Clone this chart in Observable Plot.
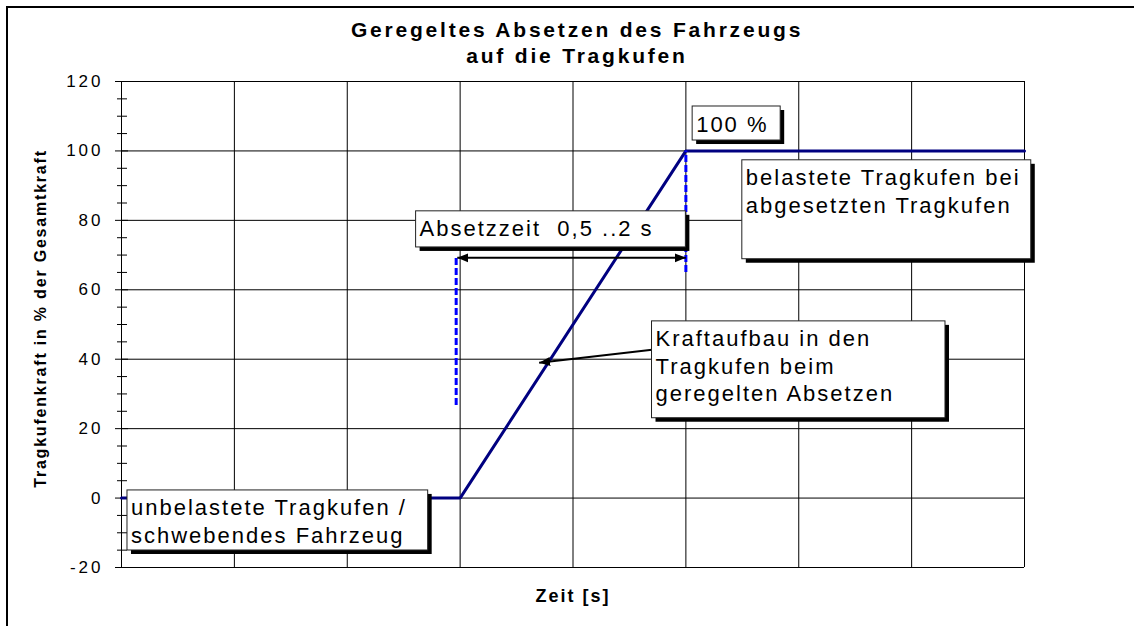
<!DOCTYPE html>
<html>
<head>
<meta charset="utf-8">
<script src="https://cdn.jsdelivr.net/npm/d3@7"></script>
<script src="https://cdn.jsdelivr.net/npm/@observablehq/plot@0.6"></script>
<style>
  html, body { margin: 0; padding: 0; background: #fff; overflow: hidden; }
  #wrap { position: relative; width: 1136px; height: 628px; overflow: hidden; }
  #wrap svg { display: block; }
  #frame { position: absolute; left: 6px; top: 6px; width: 1128px; height: 620px; box-sizing: border-box;
           border-left: 2px solid #000; border-top: 2px solid #000; pointer-events: none; }
  svg { font-family: "Liberation Sans", Arial, sans-serif; }
  g[font-size="22"] text { letter-spacing: 2px; }
  g[font-size="21"] text { letter-spacing: 2.8px; }
  g[font-size="17"] text { letter-spacing: 3px; }
  g[font-size="16"] text { letter-spacing: 1.8px; }
  g[font-size="18"] text { letter-spacing: 2px; }
</style>
</head>
<body>
<div id="wrap"><div id="frame"></div></div>
<script>
// ---- data ----
const time  = [0, 3, 5, 8];          // grid units of the time axis
const force = [0, 0, 100, 100];      // % of total force

const xGrid  = [0, 1, 2, 3, 4, 5, 6, 7, 8];
const yMajor = [-20, 0, 20, 40, 60, 80, 100, 120];
const yMinor = [-15, -10, -5, 5, 10, 15, 25, 30, 35, 45, 50, 55, 65, 70, 75, 85, 90, 95, 105, 110, 115];

const titleText  = "Geregeltes Absetzen des Fahrzeugs\nauf die Tragkufen";
const xLabelText = "Zeit [s]";
const yLabelText = "Tragkufenkraft in % der Gesamtkraft";

// dashed markers of the settling interval
const dashX  = [2.965, 5.0];
const dashY1 = [26.7, 65];
const dashY2 = [69.5, 100];

// double arrow "Absetzzeit"
const spanX1 = [2.975], spanX2 = [5.0], spanY = [69.2];

// pointer arrow to the ramp
const ptrX1 = [4.70], ptrY1 = [42.7], ptrX2 = [3.70], ptrY2 = [39];

// annotation boxes (in data units)
const boxLabels = [
  "Absetzzeit  0,5 ..2 s",
  "100 %",
  "belastete Tragkufen bei\nabgesetzten Tragkufen",
  "Kraftaufbau in den\nTragkufen beim\ngeregelten Absetzen",
  "unbelastete Tragkufen /\nschwebendes Fahrzeug"
];
const boxX1 = [2.61, 5.06, 5.50, 4.70, 0.053];
const boxX2 = [5.00, 5.84, 8.06, 7.30, 2.717];
const boxY1 = [82.6, 112.8, 97.3, 50.9, 2.2];
const boxY2 = [72.2, 103.0, 68.8, 23.0, -15.1];

// ---- build tables ----
const series = time.map((t, i) => ({t, f: force[i]}));
const dashes = dashX.map((x, i) => ({x, y1: dashY1[i], y2: dashY2[i]}));
const spans = spanX1.map((x1, i) => ({x1, x2: spanX2[i], y: spanY[i]}));
const ptrs = ptrX1.map((x1, i) => ({x1, y1: ptrY1[i], x2: ptrX2[i], y2: ptrY2[i]}));
const boxes = boxLabels.map((label, i) => ({label, x1: boxX1[i], x2: boxX2[i], y1: boxY1[i], y2: boxY2[i]}));

function headMarker(color, context) {
  const m = d3.create("svg:marker")
    .attr("viewBox", "-11 -5 11 10")
    .attr("markerUnits", "userSpaceOnUse")
    .attr("markerWidth", 11)
    .attr("markerHeight", 10)
    .attr("refX", 0).attr("refY", 0)
    .attr("orient", "auto-start-reverse");
  m.append("path").attr("d", "M-11,-4.5L0,0L-11,4.5Z").attr("fill", "#000").attr("stroke", "none");
  return m.node();
}

const chart = Plot.plot({
  width: 1136,
  height: 628,
  marginLeft: 121,
  marginRight: 112,
  marginTop: 81,
  marginBottom: 61,
  x: {domain: [0, 8], axis: null},
  y: {domain: [-20, 120], axis: null},
  style: {background: "transparent", fontFamily: "Liberation Sans, Arial, sans-serif", overflow: "visible"},
  marks: [
    Plot.gridX(xGrid, {stroke: "#000", strokeOpacity: 1, strokeWidth: 1}),
    Plot.gridY(yMajor, {stroke: "#000", strokeOpacity: 1, strokeWidth: 1}),
    Plot.axisY(yMajor, {tickSize: 6, tickPadding: 12, fontSize: 17, tickFormat: d => String(d), label: null, color: "#000"}),
    Plot.axisY(yMajor, {tickSize: 7, dx: 7, fill: "none", label: null, stroke: "#000"}),
    Plot.axisY(yMinor, {tickSize: 4, fill: "none", label: null, stroke: "#000"}),
    Plot.axisY(yMinor, {tickSize: 6, dx: 6, fill: "none", label: null, stroke: "#000"}),
    Plot.line(series, {x: "t", y: "f", stroke: "#000080", strokeWidth: 3, strokeLinejoin: "miter"}),
    Plot.ruleX(dashes, {x: "x", y1: "y1", y2: "y2", stroke: "#0000ff", strokeWidth: 3, strokeDasharray: "7,3"}),
    Plot.link(spans, {x1: "x1", x2: "x2", y1: "y", y2: "y", stroke: "#000", strokeWidth: 2, markerStart: headMarker, markerEnd: headMarker}),
    Plot.link(ptrs, {x1: "x1", y1: "y1", x2: "x2", y2: "y2", stroke: "#000", strokeWidth: 2, markerEnd: headMarker}),
    Plot.rect(boxes, {x1: "x1", x2: "x2", y1: "y1", y2: "y2", fill: "#000", dx: 4, dy: 4}),
    Plot.rect(boxes, {x1: "x1", x2: "x2", y1: "y1", y2: "y2", fill: "#fff", stroke: "#222", strokeWidth: 1}),
    Plot.text(boxes, {x: "x1", y: "y1", text: "label", textAnchor: "start", lineAnchor: "top", dx: 3.5, dy: 5.5, fontSize: 22, lineHeight: 1.25, fill: "#000"}),
    Plot.text([titleText], {frameAnchor: "top", textAnchor: "middle", lineAnchor: "top", dy: -63, dx: 4, fontSize: 21, fontWeight: "bold", lineHeight: 1.24, fill: "#000"}),
    Plot.text([xLabelText], {frameAnchor: "bottom", textAnchor: "middle", dy: 34, dx: 0, fontSize: 18, fontWeight: "bold", fill: "#000"}),
    Plot.text([yLabelText], {frameAnchor: "left", textAnchor: "middle", rotate: -90, dx: -81, dy: -6, fontSize: 16, fontWeight: "bold", fill: "#000"})
  ]
});
document.getElementById("wrap").insertBefore(chart, document.getElementById("frame"));
</script>
</body>
</html>
